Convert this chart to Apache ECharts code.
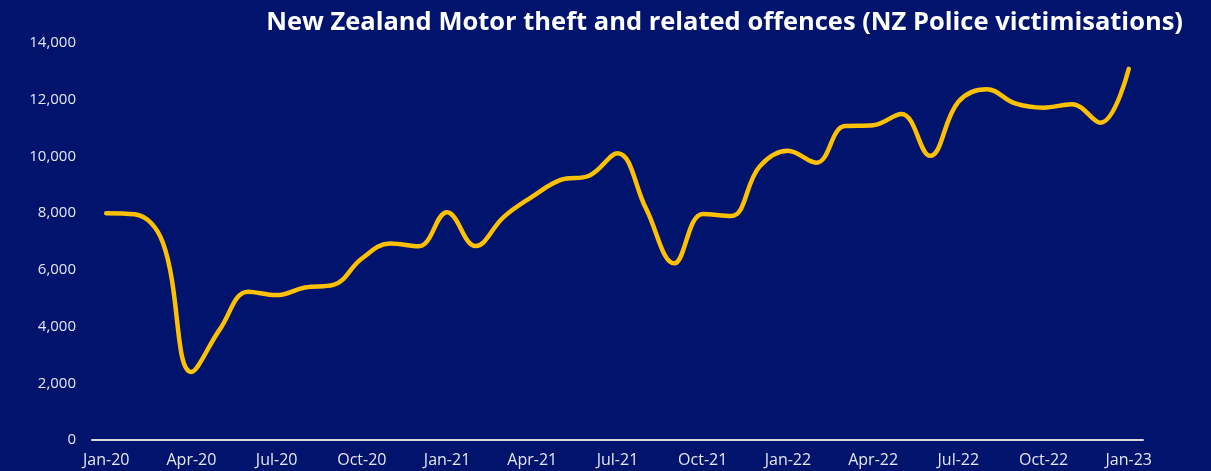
<!DOCTYPE html>
<html>
<head>
<meta charset="utf-8">
<script src="https://cdn.jsdelivr.net/npm/echarts@6/dist/echarts.min.js"></script>
<style>
  html, body { margin: 0; padding: 0; background: #00146e; }
  #chart { width: 1211px; height: 471px; }
</style>
</head>
<body>
<div id="chart"></div>
<script>
// 月份标签
const months = [
  'Jan-20', 'Feb-20', 'Mar-20', 'Apr-20', 'May-20', 'Jun-20', 'Jul-20', 'Aug-20', 'Sep-20', 'Oct-20', 'Nov-20', 'Dec-20',
  'Jan-21', 'Feb-21', 'Mar-21', 'Apr-21', 'May-21', 'Jun-21', 'Jul-21', 'Aug-21', 'Sep-21', 'Oct-21', 'Nov-21', 'Dec-21',
  'Jan-22', 'Feb-22', 'Mar-22', 'Apr-22', 'May-22', 'Jun-22', 'Jul-22', 'Aug-22', 'Sep-22', 'Oct-22', 'Nov-22', 'Dec-22',
  'Jan-23'
]

// victimisations per month
const victimisations = [
  8000, 7960, 6950, 2400, 3900, 5230, 5110, 5380, 5470, 6400, 6930, 6830,
  8030, 6840, 7870, 8580, 9170, 9320, 10110, 8170, 6230, 7970, 7900, 9640,
  10200, 9780, 11070, 11100, 11500, 10020, 11930, 12370, 11870, 11720, 11840, 11190,
  13090
]

const yTicks = { min: 0, max: 14000, interval: 2000 }

const chart = echarts.init(document.getElementById('chart'))
chart.setOption({
  backgroundColor: '#00146e',
  animation: false,
  title: {
    text: 'New Zealand Motor theft and related offences (NZ Police victimisations)',
    right: 23,
    top: 5,
    textStyle: {
      color: '#ffffff',
      fontFamily: 'Open Sans',
      fontWeight: 'bold',
      fontSize: 25.5
    }
  },
  grid: {
    left: 92,
    right: 68,
    top: 43,
    bottom: 31
  },
  xAxis: {
    type: 'category',
    data: months,
    boundaryGap: true,
    axisLine: { show: true, lineStyle: { color: '#d9d9d9', width: 2 } },
    axisTick: { show: false },
    axisLabel: {
      interval: 2,
      color: '#e6e6ee',
      fontFamily: 'Open Sans',
      fontSize: 16,
      margin: 12
    }
  },
  yAxis: {
    type: 'value',
    min: yTicks.min,
    max: yTicks.max,
    interval: yTicks.interval,
    splitLine: { show: false },
    axisLine: { show: false },
    axisTick: { show: false },
    axisLabel: {
      color: '#e6e6ee',
      fontFamily: 'Open Sans',
      fontSize: 15,
      margin: 16,
      formatter: (v) => v.toLocaleString('en-US')
    }
  },
  series: [{
    type: 'line',
    data: victimisations,
    smooth: 0.4,
    showSymbol: false,
    lineStyle: { color: '#ffc000', width: 4.5, cap: 'round' }
  }]
})
</script>
</body>
</html>
